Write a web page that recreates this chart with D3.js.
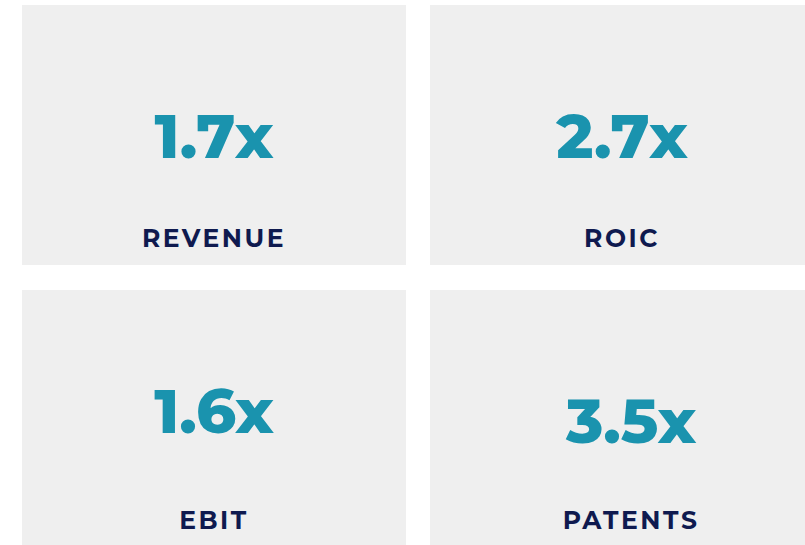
<!DOCTYPE html>
<html>
<head>
<meta charset="utf-8">
<script src="https://cdn.jsdelivr.net/npm/d3@7"></script>
<style>
  html, body { margin: 0; padding: 0; background: #fff; }
  svg { display: block; }
  .value { font-family: Montserrat, Inter, sans-serif; font-weight: 800; fill: #1a93ae; }
  .label { font-family: Montserrat, Inter, sans-serif; font-weight: 700; fill: #0f1a4f; }
</style>
</head>
<body>
<div id="chart"></div>
<script>
// Data
const metrics = ["REVENUE", "ROIC", "EBIT", "PATENTS"];
const multiples = [1.7, 2.7, 1.6, 3.5];

const width = 805;
const height = 545;

// small per-tile nudges of the text, the original tiles are not perfectly aligned
const nudgeX = [0, 0, 0, 9];
const nudgeValueY = [0, 0, -10, 0];
const nudgeLabelY = [0, 0, -3, -3];

const svg = d3.select("#chart")
    .append("svg")
    .attr("width", width)
    .attr("height", height);

// 2x2 grid of tiles
const x = d3.scaleBand()
    .domain([0, 1])
    .range([22, 814])
    .paddingInner(24 / 408);

const y = d3.scaleBand()
    .domain([0, 1])
    .range([5, 550])
    .paddingInner(25 / 285);

const tiles = svg.selectAll("g.tile")
    .data(metrics.map((m, i) => ({metric: m, value: multiples[i], i: i})))
    .enter()
    .append("g")
    .attr("class", "tile")
    .attr("transform", d => `translate(${x(d.i % 2)},${y(Math.floor(d.i / 2))})`);

tiles.append("rect")
    .attr("width", x.bandwidth())
    .attr("height", y.bandwidth())
    .attr("fill", "#efefef");

tiles.append("text")
    .attr("class", "value")
    .attr("x", d => x.bandwidth() / 2 + nudgeX[d.i])
    .attr("y", d => 153 + nudgeValueY[d.i])
    .attr("text-anchor", "middle")
    .style("font-size", "62px")
    .text(d => d3.format(".1f")(d.value) + "x");

tiles.append("text")
    .attr("class", "label")
    .attr("x", d => x.bandwidth() / 2 + nudgeX[d.i])
    .attr("y", d => 242 + nudgeLabelY[d.i])
    .attr("text-anchor", "middle")
    .style("font-size", "25px")
    .style("letter-spacing", "2.5px")
    .text(d => d.metric);
</script>
</body>
</html>
